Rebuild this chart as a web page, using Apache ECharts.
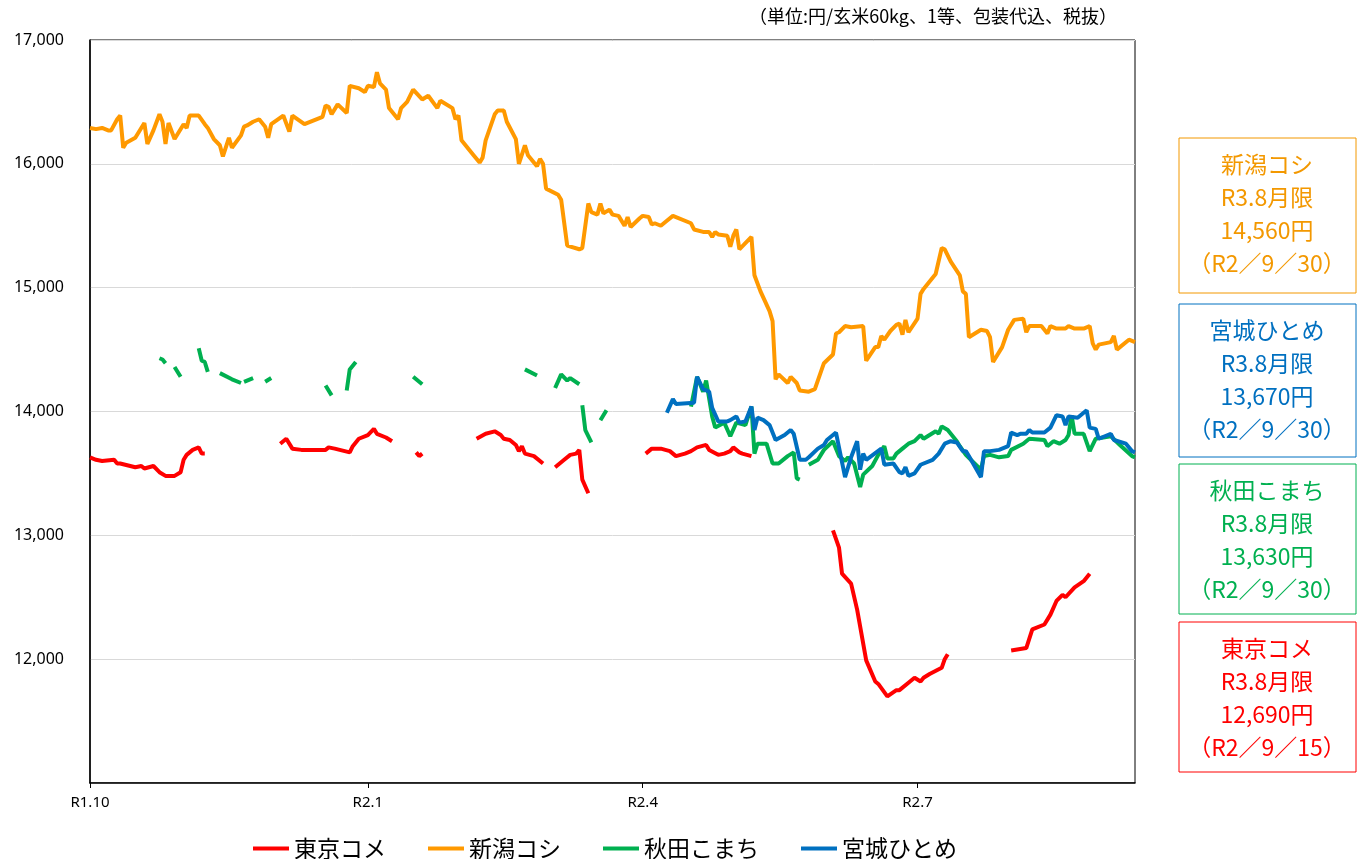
<!DOCTYPE html>
<html>
<head>
<meta charset="utf-8">
<script src="https://cdn.jsdelivr.net/npm/echarts@6/dist/echarts.min.js"></script>
<style>
  html, body { margin: 0; padding: 0; background: #fff; }
  #main { width: 1363px; height: 859px; }
</style>
</head>
<body>
<div id="main"></div>
<script type="text/javascript">
    // 横軸は R1.10.1（2019/10/1）からの経過日数
    var seriesNames = ['東京コメ', '新潟コシ', '秋田こまち', '宮城ひとめ'];
    var xTickDays = [0, 92, 183, 274];
    var xTickLabels = ['R1.10', 'R2.1', 'R2.4', 'R2.7'];
    var lastDay = 346;

    // 東京コメ（途切れごとに区切り）
    var tokyoSegments = [
        [[0,13630],[2,13610],[4,13600],[8,13610],[9,13580],[10,13580],[15,13550],[17,13560],[18,13540],[21,13560],[23,13510],[25,13480],[28,13480],[30,13510],[31,13610],[32,13650],[34,13690],[36,13710],[37,13660],[38,13660]],
        [[63,13740],[65,13780],[67,13700],[70,13690],[78,13690],[79,13710],[81,13700],[86,13670],[87,13720],[89,13780],[92,13810],[94,13860],[95,13820],[98,13790],[100,13760]],
        [[108,13670],[109,13640],[110,13660]],
        [[128,13780],[131,13820],[134,13840],[136,13810],[137,13780],[139,13770],[141,13730],[142,13680],[143,13720],[144,13660],[147,13640],[150,13580]],
        [[154,13550],[157,13610],[159,13650],[161,13660],[162,13690],[163,13450],[165,13340]],
        [[184,13660],[186,13700],[189,13700],[192,13680],[194,13640],[197,13660],[199,13680],[201,13710],[204,13730],[205,13690],[208,13650],[210,13660],[212,13680],[213,13710],[215,13670],[216,13660],[219,13640]],
        [[246,13040],[248,12900],[249,12690],[252,12610],[254,12400],[257,11990],[260,11820],[261,11800],[264,11700],[267,11750],[268,11750],[271,11810],[273,11850],[275,11820],[276,11850],[278,11880],[282,11930],[283,12000],[284,12040]],
        [[305,12070],[310,12090],[312,12240],[316,12280],[318,12360],[320,12470],[322,12520],[323,12500],[326,12580],[329,12630],[331,12690]]
    ];

    // 新潟コシ
    var niigataSegments = [
        [[0,16290],[2,16280],[4,16290],[6,16270],[7,16270],[9,16360],[10,16390],[11,16130],[12,16170],[15,16210],[18,16330],[19,16160],[21,16270],[23,16400],[24,16340],[25,16160],[26,16330],[28,16200],[31,16320],[32,16290],[33,16390],[36,16390],[38,16320],[39,16290],[41,16200],[43,16150],[44,16060],[46,16210],[47,16130],[50,16230],[51,16300],[52,16310],[54,16340],[56,16360],[58,16300],[59,16210],[60,16320],[64,16390],[66,16260],[67,16390],[71,16320],[77,16380],[78,16470],[79,16460],[80,16400],[82,16480],[85,16410],[86,16630],[89,16610],[91,16580],[92,16630],[94,16620],[95,16740],[96,16650],[98,16600],[99,16450],[102,16360],[103,16450],[105,16500],[107,16600],[110,16520],[112,16550],[115,16450],[116,16510],[120,16450],[121,16360],[122,16390],[123,16190],[127,16070],[129,16010],[130,16050],[131,16190],[134,16400],[135,16430],[137,16430],[138,16340],[141,16200],[142,16000],[144,16150],[145,16070],[148,15980],[149,16040],[150,16000],[151,15800],[155,15750],[156,15710],[158,15340],[162,15310],[163,15320],[165,15680],[166,15610],[168,15590],[169,15680],[170,15600],[172,15630],[173,15590],[175,15580],[177,15500],[178,15570],[179,15490],[182,15560],[183,15580],[185,15570],[186,15510],[187,15520],[189,15500],[191,15540],[193,15580],[199,15520],[200,15470],[203,15450],[205,15450],[206,15410],[207,15450],[208,15430],[211,15420],[212,15330],[213,15420],[214,15470],[215,15310],[219,15410],[220,15100],[222,14970],[225,14810],[226,14730],[227,14260],[228,14300],[231,14230],[232,14280],[234,14230],[235,14170],[238,14160],[240,14180],[243,14390],[246,14460],[247,14630],[248,14640],[250,14690],[252,14680],[256,14690],[257,14410],[260,14520],[261,14520],[262,14610],[263,14580],[265,14650],[267,14700],[268,14710],[269,14620],[270,14740],[271,14640],[274,14750],[275,14950],[276,14990],[280,15110],[282,15320],[283,15310],[285,15210],[288,15100],[289,14970],[290,14950],[291,14600],[295,14660],[297,14650],[298,14600],[299,14400],[302,14520],[304,14660],[306,14740],[309,14750],[310,14640],[311,14690],[312,14690],[315,14690],[317,14630],[318,14690],[320,14670],[323,14670],[324,14690],[326,14670],[329,14670],[331,14690],[332,14550],[333,14500],[334,14540],[338,14560],[339,14610],[340,14500],[344,14580],[346,14560]]
    ];

    // 秋田こまち
    var akitaSegments = [
        [[23,14430],[24,14420],[25,14390]],
        [[28,14360],[30,14280]],
        [[36,14510],[37,14410],[38,14400],[39,14320]],
        [[43,14310],[47,14260],[50,14230]],
        [[51,14240],[54,14270]],
        [[58,14240],[60,14270]],
        [[78,14210],[80,14130]],
        [[85,14170],[86,14340],[88,14400]],
        [[107,14280],[110,14220]],
        [[144,14340],[148,14290]],
        [[154,14190],[156,14300],[158,14250],[159,14270],[162,14220]],
        [[163,14050],[164,13850],[166,13750]],
        [[169,13930],[171,14010]],
        [[199,14040],[201,14280],[203,14160],[204,14250],[206,13960],[207,13870],[210,13910],[212,13800],[214,13910],[217,13890],[219,14040],[220,13660],[221,13740],[224,13740],[226,13580],[228,13580],[231,13640],[233,13670],[234,13460],[235,13450]],
        [[238,13570],[241,13610],[243,13690],[246,13760],[248,13640],[250,13600],[251,13630],[253,13580],[255,13390],[256,13490],[259,13560],[261,13650],[263,13720],[264,13620],[266,13620],[267,13660],[269,13700],[271,13740],[273,13760],[275,13810],[276,13780],[280,13840],[281,13820],[282,13880],[284,13850],[287,13760],[288,13720],[290,13650],[295,13530],[296,13640],[298,13650],[301,13630],[304,13640],[305,13690],[309,13740],[311,13780],[316,13770],[317,13720],[319,13760],[321,13740],[323,13770],[324,13810],[325,13970],[326,13820],[329,13820],[331,13680],[333,13780],[338,13800],[341,13730],[345,13640],[346,13630]]
    ];

    // 宮城ひとめ
    var miyagiSegments = [
        [[191,13990],[193,14100],[194,14060],[200,14070],[201,14280],[203,14180],[205,14160],[206,14030],[208,13920],[211,13920],[212,13930],[214,13960],[215,13910],[217,13920],[219,14040],[220,13850],[221,13950],[223,13930],[225,13890],[227,13770],[230,13810],[232,13850],[233,13820],[235,13610],[237,13610],[238,13630],[241,13700],[243,13730],[244,13770],[247,13830],[250,13470],[252,13630],[254,13760],[255,13530],[256,13660],[257,13610],[262,13700],[263,13570],[266,13580],[268,13510],[269,13500],[270,13550],[271,13480],[273,13500],[275,13570],[279,13610],[281,13660],[283,13740],[285,13760],[287,13750],[289,13680],[290,13680],[291,13640],[295,13470],[296,13680],[298,13680],[301,13690],[303,13710],[304,13720],[305,13830],[307,13810],[308,13820],[310,13820],[311,13850],[312,13830],[316,13830],[318,13870],[320,13970],[322,13960],[323,13890],[324,13960],[327,13950],[330,14010],[331,13870],[333,13860],[334,13780],[338,13820],[339,13770],[343,13740],[345,13680],[346,13670]]
    ];

    // 右側の注記（期先限月の値）
    var noteTexts = [
        ['新潟コシ', 'R3.8月限', '14,560円', '（R2／9／30）'],
        ['宮城ひとめ', 'R3.8月限', '13,670円', '（R2／9／30）'],
        ['秋田こまち', 'R3.8月限', '13,630円', '（R2／9／30）'],
        ['東京コメ', 'R3.8月限', '12,690円', '（R2／9／15）']
    ];

    var colors = ['#FF0000', '#FF9900', '#00B050', '#0070C0'];
    var noteColors = ['#F39800', '#0070C0', '#00B050', '#FF0000'];
    var noteTops = [138, 304, 464, 622];
    var noteHeights = [155, 153, 150, 150];

    // 区切りごとに null を挟んで線を途切れさせる
    function toData(segments) {
        var out = [];
        segments.forEach(function (seg, i) {
            if (i > 0) out.push([seg[0][0], null]);
            seg.forEach(function (p) { out.push([p[0], p[1]]); });
        });
        return out;
    }

    var allSegments = [tokyoSegments, niigataSegments, akitaSegments, miyagiSegments];

    var graphics = [{
        type: 'text',
        right: 1363 - 1117,
        top: 7,
        style: {
            text: '（単位:円/玄米60kg、1等、包装代込、税抜）',
            fill: '#000',
            font: '18px "Noto Sans CJK JP"'
        }
    }];
    noteTexts.forEach(function (lines, i) {
        graphics.push({
            type: 'rect',
            shape: { x: 1179, y: noteTops[i], width: 177, height: noteHeights[i] },
            style: { fill: '#fff', stroke: noteColors[i], lineWidth: 1 }
        });
        lines.forEach(function (s, j) {
            graphics.push({
                type: 'text',
                x: 1267,
                y: noteTops[i] + 26 + 33 * j,
                style: {
                    text: s,
                    fill: noteColors[i],
                    font: '23px "Noto Sans CJK JP"',
                    align: 'center',
                    verticalAlign: 'middle'
                }
            });
        });
    });

    var myChart = echarts.init(document.getElementById('main'));
    var option = {
        animation: false,
        backgroundColor: '#fff',
        color: colors,
        grid: {
            left: 90, right: 228, top: 40, bottom: 76,
            show: true, borderColor: '#000', borderWidth: 1
        },
        legend: {
            data: seriesNames,
            left: 248,
            top: 832,
            icon: 'rect',
            itemWidth: 36,
            itemHeight: 4,
            itemGap: 42,
            textStyle: { fontSize: 23, color: '#000', fontFamily: 'Noto Sans CJK JP' }
        },
        xAxis: {
            type: 'value',
            min: 0,
            max: lastDay,
            axisLine: { lineStyle: { color: '#000', width: 1.5 } },
            axisTick: {
                show: true, length: 5, lineStyle: { color: '#000' },
                customValues: xTickDays
            },
            axisLabel: {
                customValues: xTickDays,
                formatter: function (v) {
                    var k = xTickDays.indexOf(Math.round(v));
                    return k >= 0 ? xTickLabels[k] : '';
                },
                color: '#000',
                fontSize: 15,
                fontFamily: 'Noto Sans',
                margin: 12
            },
            splitLine: { show: false }
        },
        yAxis: {
            type: 'value',
            min: 11000,
            max: 17000,
            interval: 1000,
            axisLine: { show: true, lineStyle: { color: '#000', width: 1.5 } },
            axisTick: { show: false },
            axisLabel: {
                showMinLabel: false,
                formatter: function (v) { return v === 11000 ? '' : v.toLocaleString('en-US'); },
                color: '#000',
                fontSize: 16,
                fontFamily: 'Noto Sans',
                margin: 26
            },
            splitLine: { lineStyle: { color: '#D9D9D9', width: 1 } }
        },
        series: seriesNames.map(function (name, i) {
            return {
                name: name,
                type: 'line',
                symbol: 'none',
                connectNulls: false,
                lineStyle: { width: 4, color: colors[i] },
                data: toData(allSegments[i])
            };
        }),
        graphic: graphics
    };
    myChart.setOption(option);
</script>
</body>
</html>
